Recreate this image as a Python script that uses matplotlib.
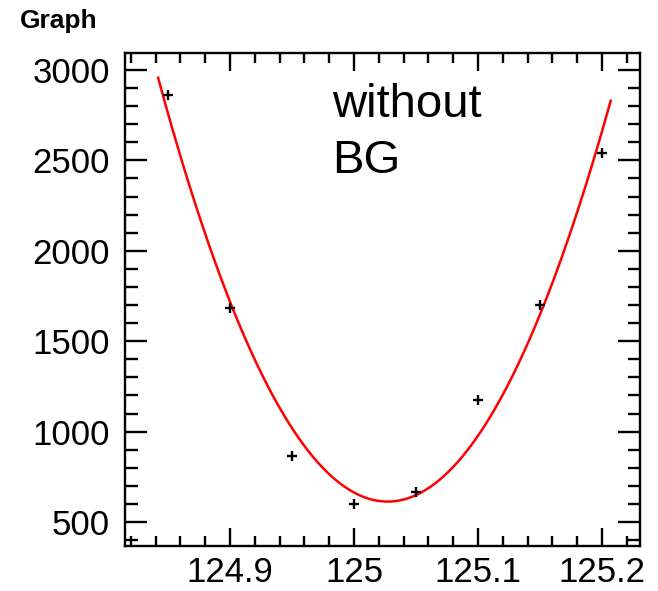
import numpy as np
import matplotlib.pyplot as plt
from matplotlib.ticker import MultipleLocator

plt.rcParams['font.family'] = ['Liberation Sans', 'DejaVu Sans']

# data points
mass = [124.85, 124.90, 124.95, 125.00, 125.05, 125.10, 125.15, 125.20]
counts = [2862, 1684, 865, 600, 666, 1175, 1700, 2541]

# fit range of the red curve
fit_lo, fit_hi = 124.842, 125.207

fig = plt.figure(figsize=(6.58, 5.91), dpi=100)
ax = fig.add_axes([0.190, 0.0761, 0.7826, 0.8342])

coef = np.polyfit(mass, counts, 2)
xf = np.linspace(fit_lo, fit_hi, 300)
ax.plot(xf, np.polyval(coef, xf), color='red', lw=1.8, zorder=2)
ax.plot(mass, counts, ls='none', marker='+', color='black', ms=7, mew=1.7, zorder=3)

ax.set_xlim(124.8153, 125.2306)
ax.set_ylim(367, 3094)
ax.xaxis.set_major_locator(MultipleLocator(0.1))
ax.xaxis.set_minor_locator(MultipleLocator(0.02))
ax.yaxis.set_major_locator(MultipleLocator(500))
ax.yaxis.set_minor_locator(MultipleLocator(100))
ax.set_xticks([124.9, 125.0, 125.1, 125.2], ['124.9', '125', '125.1', '125.2'])

ax.tick_params(which='both', direction='in', top=True, right=True, width=1.7, labelsize=25)
ax.tick_params(axis='x', which='major', length=13, pad=7)
ax.tick_params(axis='x', which='minor', length=7)
ax.tick_params(axis='y', which='major', length=16, pad=11)
ax.tick_params(axis='y', which='minor', length=9)
for s in ax.spines.values():
    s.set_linewidth(1.7)

fig.text(0.5046, 0.802, 'without', fontsize=34, va='baseline')
fig.text(0.5046, 0.7073, 'BG', fontsize=34, va='baseline')
fig.text(0.030, 0.953, 'Graph', fontsize=19, fontweight='bold', va='baseline')

fig.savefig('out.png', dpi=100)
